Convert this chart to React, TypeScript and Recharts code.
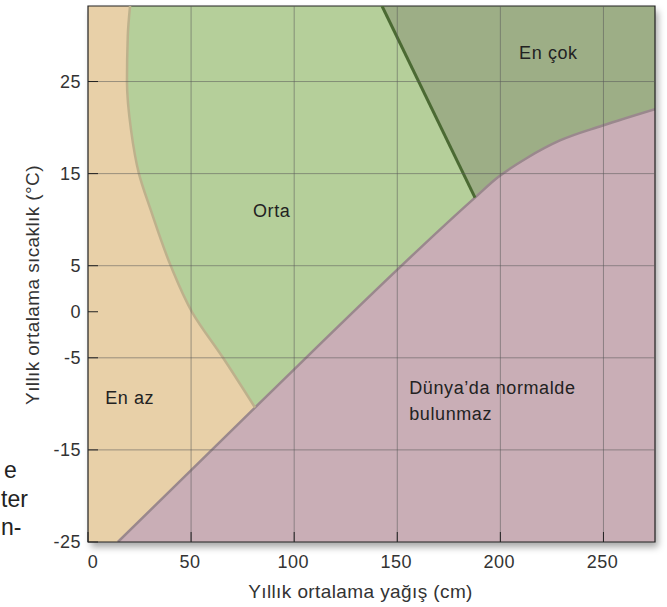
import React from 'react';
import { ComposedChart, Area, Line, XAxis, YAxis, ReferenceLine, ReferenceArea, ReferenceDot } from 'recharts';

const FONT = '"Liberation Sans", Arial, Helvetica, sans-serif';

// eksenler
const xTicks = [0, 50, 100, 150, 200, 250];
const yTicks = [-25, -15, -5, 0, 5, 15, 25];
const xGrid = [50, 100, 150, 200, 250];
const yGrid = [25, 15, 5, -5, -15];
const xDomain = [0, 275];
const yDomain = [-25, 33.2];

// sınırlar: x = yağış (cm), y = sıcaklık (°C)
const azOrtaSiniri = [
  { x: 20.4, y: 33.2 },
  { x: 19.3, y: 30 },
  { x: 18.9, y: 25 },
  { x: 20.9, y: 19.7 },
  { x: 24.7, y: 15 },
  { x: 30.5, y: 11 },
  { x: 40.3, y: 4.9 },
  { x: 50.4, y: 0 },
  { x: 65.5, y: -5 },
  { x: 81, y: -10.4 },
];
const pembeDogru = [
  { x: 14.5, y: -25 },
  { x: 81, y: -10.4 },
  { x: 187.7, y: 12.4 },
];
const pembeEgri = [
  { x: 198.8, y: 14.6 },
  { x: 212.9, y: 16.7 },
  { x: 228.9, y: 18.6 },
  { x: 249.3, y: 20.2 },
  { x: 275, y: 22.0 },
];
const cokSiniri = [
  { x: 142.6, y: 33.2 },
  { x: 187.7, y: 12.4 },
];

const ortaBolge = [...azOrtaSiniri, ...pembeDogru.slice(2), cokSiniri[0]];
const cokBolge = [...cokSiniri, ...pembeEgri];
const pembeBolge = [...pembeDogru, ...pembeEgri];

const etiketler = [
  { text: 'En çok', x: 223.3, y: 28.1 },
  { text: 'Orta', x: 89.1, y: 11.0 },
  { text: 'En az', x: 20.2, y: -9.3 },
];
const pembeEtiket = ['Dünya’da normalde', 'bulunmaz'];
const kenarMetni = ['e', 'ter', 'n-'];

const XTick = (p: any) => {
  const { x, y, payload } = p;
  return (
    <g>
      <line x1={x} x2={x} y1={y - 13} y2={y - 23} stroke="#222" strokeWidth={1} />
      <text x={x + (payload.value === 0 ? 5 : -1)} y={y} dy="0.71em" textAnchor="middle" fontSize={18} fill="#333" fontFamily={FONT} letterSpacing={0.5}>
        {payload.value}
      </text>
    </g>
  );
};

const YTick = (p: any) => {
  const { x, y, payload } = p;
  return (
    <g>
      <line x1={x + 7} x2={x + 17} y1={y} y2={y} stroke="#222" strokeWidth={1} />
      <text x={x} y={y} dy="0.355em" textAnchor="end" fontSize={18} fill="#333" fontFamily={FONT} letterSpacing={0.5}>
        {payload.value}
      </text>
    </g>
  );
};

export default function App() {
  return (
    <div style={{ position: 'absolute', left: 0, top: 0, width: 667, height: 607, background: '#fff' }}>
      {/* gölge */}
      <div style={{ position: 'absolute', left: 88, top: 6, width: 567, height: 536, background: '#aaa', boxShadow: '3px 5px 7px rgba(0,0,0,0.35)' }} />
      <svg width={40} height={607} style={{ position: 'absolute', left: 0, top: 0 }}>
        <text x={4} y={478} fontSize={23} fill="#222" fontFamily={FONT}>{kenarMetni[0]}</text>
        <text x={1} y={507} fontSize={23} fill="#222" fontFamily={FONT}>{kenarMetni[1]}</text>
        <text x={1} y={535} fontSize={23} fill="#222" fontFamily={FONT}>{kenarMetni[2]}</text>
      </svg>
      <div style={{ position: 'absolute', left: 0, top: 0 }}>
        <ComposedChart width={667} height={607} margin={{ top: 6, right: 12, bottom: 0, left: 0 }}>
          <XAxis
            dataKey="x"
            type="number"
            domain={xDomain}
            ticks={xTicks}
            allowDataOverflow
            axisLine={false}
            tickLine={false}
            tickSize={0}
            tickMargin={13}
            height={65}
            tick={<XTick />}
            label={(lp: any) => {
              const vb = lp.viewBox;
              return (
                <text x={vb.x + vb.width / 2 - 11} y={vb.y + 56} textAnchor="middle" fontSize={19} fill="#333" fontFamily={FONT} letterSpacing={0.4}>
                  Yıllık ortalama yağış (cm)
                </text>
              );
            }}
          />
          <YAxis
            type="number"
            domain={yDomain}
            ticks={yTicks}
            allowDataOverflow
            axisLine={false}
            tickLine={false}
            tickSize={0}
            tickMargin={7}
            width={88}
            tick={<YTick />}
            label={(lp: any) => {
              const vb = lp.viewBox;
              const cx = vb.x + 39;
              const cy = vb.y + vb.height / 2 + 11;
              return (
                <text x={cx} y={cy} transform={`rotate(-90 ${cx} ${cy})`} textAnchor="middle" fontSize={19} fill="#333" fontFamily={FONT} letterSpacing={0.4}>
                  Yıllık ortalama sıcaklık (°C)
                </text>
              );
            }}
          />
          <ReferenceArea x1={0} x2={275} y1={-25} y2={33.2} fill="#E8D0A8" fillOpacity={1} stroke="none" />
          <Area data={ortaBolge} dataKey="y" type="linear" baseValue="dataMax" fill="#B5CF9A" fillOpacity={1} stroke="none" isAnimationActive={false} />
          <Area data={cokBolge} dataKey="y" type="linear" baseValue="dataMax" fill="#9DAE86" fillOpacity={1} stroke="none" isAnimationActive={false} />
          <Area data={pembeBolge} dataKey="y" type="monotone" baseValue="dataMin" fill="#C9AEB6" fillOpacity={1} stroke="#9A888D" strokeWidth={2.5} isAnimationActive={false} />
          <Line data={azOrtaSiniri} dataKey="y" type="monotoneY" stroke="#BDB18C" strokeWidth={2.5} dot={false} isAnimationActive={false} />
          <Line data={cokSiniri} dataKey="y" type="linear" stroke="#4B6A33" strokeWidth={3} dot={false} isAnimationActive={false} />
          {xGrid.map((v) => (
            <ReferenceLine key={'x' + v} x={v} stroke="#5a5a5a" strokeOpacity={0.55} strokeWidth={1} />
          ))}
          {yGrid.map((v) => (
            <ReferenceLine key={'y' + v} y={v} stroke="#5a5a5a" strokeOpacity={0.55} strokeWidth={1} />
          ))}
          <ReferenceArea x1={0} x2={275} y1={-25} y2={33.2} fill="none" stroke="#222" strokeWidth={1.2} />
          {etiketler.map((e) => (
            <ReferenceDot
              key={e.text}
              x={e.x}
              y={e.y}
              r={0}
              shape={(sp: any) => (
                <text x={sp.cx} y={sp.cy} dy="0.355em" textAnchor="middle" fontSize={18} fill="#222" fontFamily={FONT} letterSpacing={0.6}>
                  {e.text}
                </text>
              )}
            />
          ))}
          <ReferenceDot
            x={155.8}
            y={-8.2}
            r={0}
            shape={(sp: any) => (
              <text x={sp.cx} y={sp.cy} dy="0.355em" textAnchor="start" fontSize={18} fill="#222" fontFamily={FONT} letterSpacing={0.6}>
                <tspan x={sp.cx}>{pembeEtiket[0]}</tspan>
                <tspan x={sp.cx} dy={26}>{pembeEtiket[1]}</tspan>
              </text>
            )}
          />
        </ComposedChart>
      </div>
    </div>
  );
}
